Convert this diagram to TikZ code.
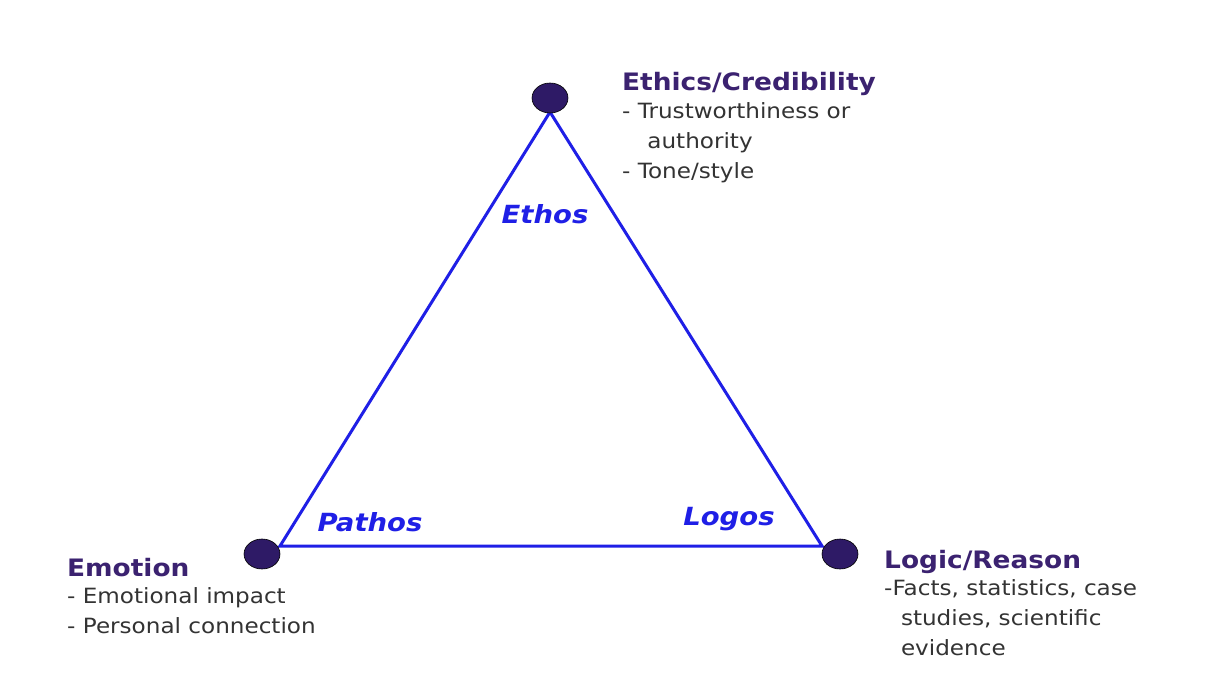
\documentclass[tikz,border=0pt]{standalone}
\usepackage{fontspec}
\usetikzlibrary{shapes.geometric}
\setmainfont[FakeStretch=1.1]{DejaVu Sans}
\definecolor{dotc}{HTML}{2E1A66}
\definecolor{headc}{HTML}{3B2270}
\definecolor{bodyc}{HTML}{333333}
\definecolor{linec}{HTML}{1F1FE6}
\begin{document}
\begin{tikzpicture}[x=1pt,y=-1pt,
  dot/.style={ellipse,fill=dotc,draw=black,line width=0.6pt,minimum width=36pt,minimum height=30pt,inner sep=0pt},
  head/.style={anchor=base west,inner sep=0pt,text=headc,font=\fontsize{24}{28}\selectfont\bfseries},
  body/.style={anchor=north west,inner sep=0pt,text=bodyc,font=\fontsize{21}{30}\selectfont,align=left},
  lab/.style={anchor=center,inner sep=0pt,text=linec,font=\fontsize{25}{28}\selectfont\bfseries\itshape}]
\useasboundingbox (0,0) rectangle (1232,678);
\fill[white] (0,0) rectangle (1232,678);
\coordinate (A) at (550,112);
\coordinate (B) at (280,546);
\coordinate (C) at (822,546);
\draw[linec,line width=3pt,line join=miter] (A) -- (B) -- (C) -- cycle;
\node[dot] (dt) at (550,98) {};
\node[dot] (dl) at (262,554) {};
\node[dot] (dr) at (840,554) {};
\node[lab] (ethos) at (545,214) {Ethos};
\node[lab] (pathos) at (370,522) {Pathos};
\node[lab] (logos) at (729,519) {Logos};
\node[head] (h1) at (622,90) {Ethics/Credibility};
\node[body] (b1) at (622,102) {- Trustworthiness or\\\hspace{1.2em}authority\\- Tone/style};
\node[head] (h2) at (67,576) {Emotion};
\node[body] (b2) at (67,587) {- Emotional impact\\- Personal connection};
\node[head] (h3) at (884,568) {Logic/Reason};
\node[body] (b3) at (884,579) {-Facts, statistics, case\\\hspace{0.8em}studies, scientific\\\hspace{0.8em}evidence};
\end{tikzpicture}
\end{document}
